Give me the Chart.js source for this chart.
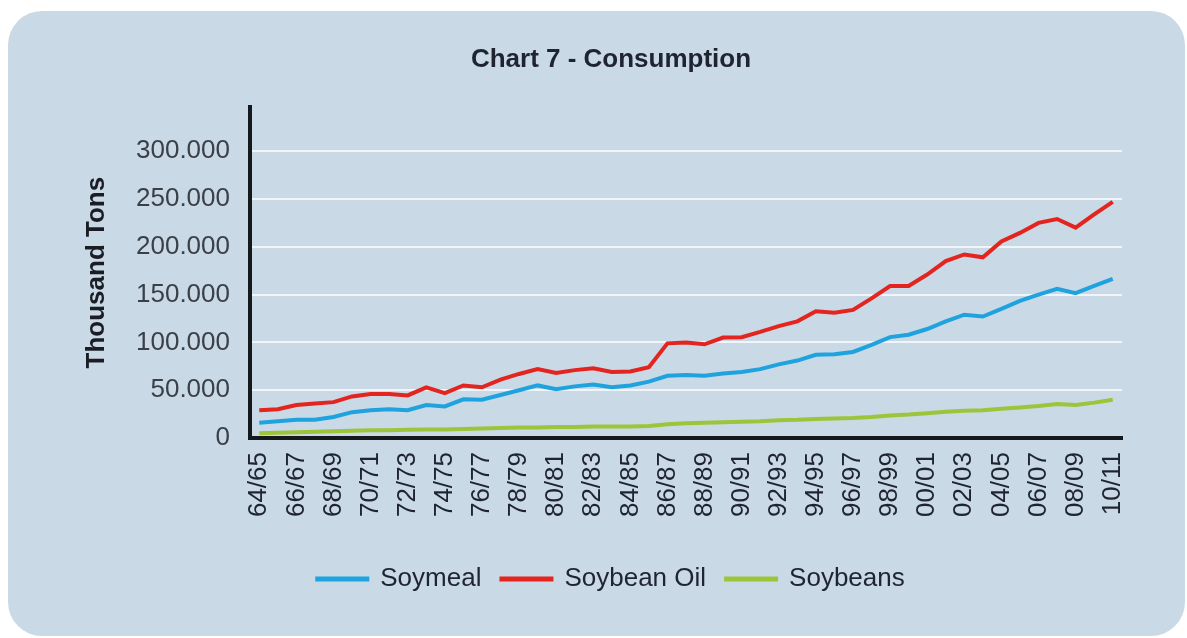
<!DOCTYPE html>
<html>
<head>
<meta charset="utf-8">
<script src="https://cdn.jsdelivr.net/npm/chart.js@4/dist/chart.umd.min.js"></script>
<style>
  body { margin: 0; background: #ffffff; }
  #panel {
    position: absolute; left: 8px; top: 11px; width: 1177px; height: 625px;
    background: #c9d9e6; border-radius: 34px;
  }
  #wrap { position: absolute; left: 0; top: 0; width: 1187px; height: 638px; }
</style>
</head>
<body>
<div id="panel"></div>
<div id="wrap"><canvas id="consumptionChart" width="1187" height="638"></canvas></div>
<script>
const seasons = ['64/65', '65/66', '66/67', '67/68', '68/69', '69/70', '70/71', '71/72', '72/73', '73/74',
    '74/75', '75/76', '76/77', '77/78', '78/79', '79/80', '80/81', '81/82', '82/83', '83/84',
    '84/85', '85/86', '86/87', '87/88', '88/89', '89/90', '90/91', '91/92', '92/93', '93/94',
    '94/95', '95/96', '96/97', '97/98', '98/99', '99/00', '00/01', '01/02', '02/03', '03/04',
    '04/05', '05/06', '06/07', '07/08', '08/09', '09/10', '10/11'];

// thousand tons
const soymeal = [16000, 17500, 19000, 19000, 22000, 27000, 29000, 30000, 29000, 34500,
    33000, 40500, 40000, 45000, 50000, 55000, 51000, 54000, 56000, 53000,
    55000, 59000, 65000, 66000, 65000, 67500, 69000, 72000, 77000, 81000,
    87000, 87500, 90000, 97500, 105500, 108000, 114000, 122000, 129000, 127000,
    135000, 143500, 150000, 156000, 151500, 159000, 166500];
const soybeanOil = [29000, 30000, 34500, 36000, 37500, 43500, 46000, 46000, 44500, 53000,
    47000, 55000, 53000, 61000, 67000, 72000, 68000, 71000, 73000, 69000,
    69500, 74000, 99000, 100000, 98000, 105000, 105500, 111000, 117000, 122000,
    132500, 131000, 134000, 146000, 159000, 159000, 171000, 185000, 192000, 189000,
    205500, 214500, 225000, 229000, 220000, 234000, 247000];
const soybeans = [5000, 5500, 6000, 6500, 7000, 7500, 8000, 8000, 8500, 9000,
    9000, 9500, 10000, 10500, 11000, 11000, 11500, 11500, 12000, 12000,
    12000, 12500, 14500, 15500, 16000, 16500, 17000, 17500, 18500, 19000,
    20000, 20500, 21000, 22000, 23500, 24500, 26000, 27500, 28500, 29000,
    30500, 32000, 33500, 35500, 34500, 37000, 40000];

const yTicks = [0, 50000, 100000, 150000, 200000, 250000, 300000];

const fontFamily = '"Liberation Sans", Arial, sans-serif';

function makeLine(label, data, color) {
    return {
        label: label,
        data: data,
        borderColor: color,
        backgroundColor: color,
        borderWidth: 4,
        pointRadius: 0,
        tension: 0
    };
}

const ctx = document.getElementById('consumptionChart').getContext('2d');
const chart = new Chart(ctx, {
    type: 'line',
    data: {
        labels: seasons,
        datasets: [
            makeLine('Soymeal', soymeal, '#1ea3df'),
            makeLine('Soybean Oil', soybeanOil, '#e3241f'),
            makeLine('Soybeans', soybeans, '#9cc53a')
        ]
    },
    options: {
        responsive: false,
        animation: false,
        layout: { padding: { left: 100, right: 65, top: 10, bottom: 36 } },
        plugins: {
            title: {
                display: true,
                text: 'Chart 7 - Consumption',
                color: '#1f2430',
                font: { family: fontFamily, size: 26, weight: 'bold' },
                padding: { top: 34, bottom: 32 }
            },
            legend: {
                position: 'bottom',
                labels: {
                    color: '#1f2430',
                    font: { family: fontFamily, size: 26 },
                    boxWidth: 50,
                    boxHeight: 1,
                    padding: 20
                }
            },
            tooltip: { enabled: false }
        },
        scales: {
            x: {
                offset: true,
                grid: { display: false },
                border: { display: true, color: '#15181d', width: 4 },
                ticks: {
                    autoSkip: false,
                    minRotation: 90,
                    maxRotation: 90,
                    padding: 6,
                    color: '#1f2430',
                    font: { family: fontFamily, size: 26 },
                    callback: function (value, index) {
                        return index % 2 === 0 ? seasons[index] : '';
                    }
                },
                afterFit: function (scale) { scale.height = 108; }
            },
            y: {
                min: 0,
                max: 346000,
                grid: { color: '#f1f5f9', lineWidth: 2, drawTicks: false },
                border: { display: true, color: '#15181d', width: 4 },
                afterBuildTicks: function (scale) {
                    scale.ticks = yTicks.map(v => ({ value: v }));
                },
                ticks: {
                    padding: 20,
                    color: '#3a3f48',
                    font: { family: fontFamily, size: 26 },
                    callback: function (value) {
                        return value.toLocaleString('de-DE');
                    }
                },
                title: {
                    display: true,
                    text: 'Thousand Tons',
                    color: '#1a1d24',
                    font: { family: fontFamily, size: 26, weight: 'bold' },
                    padding: { top: -19, bottom: 0 }
                },
                afterFit: function (scale) { scale.width = 150; }
            }
        }
    }
});
</script>
</body>
</html>
